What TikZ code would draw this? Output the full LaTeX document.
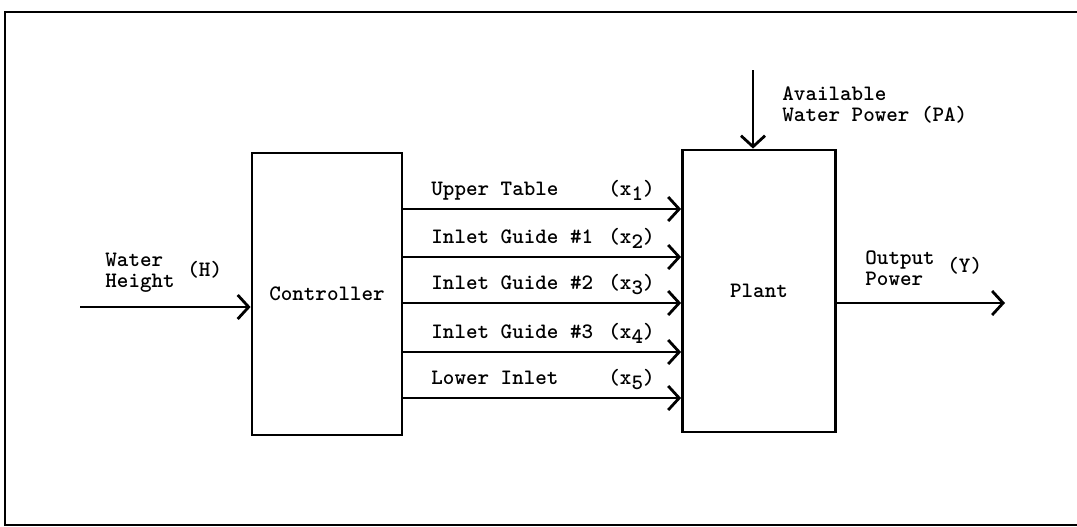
\documentclass[tikz,border=0pt]{standalone}
\usetikzlibrary{arrows.meta,positioning}
\tikzset{
  bd/.style={x=0.5pt, y=-0.5pt, line width=1.4pt, >={Straight Barb[length=5.5pt,width=12pt]},
             every node/.style={font=\ttfamily\bfseries\fontsize{11}{10.5}\selectfont, inner sep=0pt}},
  blk/.style={draw, minimum height=141pt},
  sig/.style={->},
  lbl/.style={anchor=base west},
  twoline/.style={align=left, anchor=west}
}
\newcommand{\lowidx}[1]{\raisebox{-.6ex}{#1}}

\begin{document}
\begin{tikzpicture}[bd]
\fill[white] (0,0) rectangle (1077,526);
\useasboundingbox (0,0) rectangle (1077,526);
\draw (1077,12) -- (5,12) -- (5,525) -- (1077,525);
\node[blk, minimum width=75pt] (ctrl) at (327,294) {Controller};
\node[blk, minimum width=76.5pt] (plant) at (759,291) {Plant};
% input side
\coordinate (hin) at (80,307);
\draw[sig] (hin) -- (hin -| ctrl.west);
\node[twoline] (hlbl) at (104,273) {Water\\Height};
\node[twoline] (hsym) at (186,270) {(H)};
% available power
\coordinate (pin) at (753,70);
\draw[sig] (pin) -- (pin |- plant.north);
\node[twoline] (palbl) at (781,105) {Available\\Water Power (PA)};
% output
\coordinate (yout) at (1005,303);
\draw[sig] (yout -| plant.east) -- (yout);
\node[twoline] (ylbl) at (864,268) {Output\\Power};
\node[twoline] (ysym) at (946,266) {(Y)};
% control signals
\foreach \yy/\txt [count=\i] in {209/Upper Table, 257/Inlet Guide \#1, 303/Inlet Guide \#2, 352/Inlet Guide \#3, 398/Lower Inlet}{
  \draw[sig] (ctrl.east |- 0,\yy) -- (plant.west |- 0,\yy);
  \node[lbl] (n\i) at (430,\yy-14) {\txt};
  \node[lbl] (x\i) at (607,\yy-14) {(x\lowidx{\i})};
}
\end{tikzpicture}
\end{document}
